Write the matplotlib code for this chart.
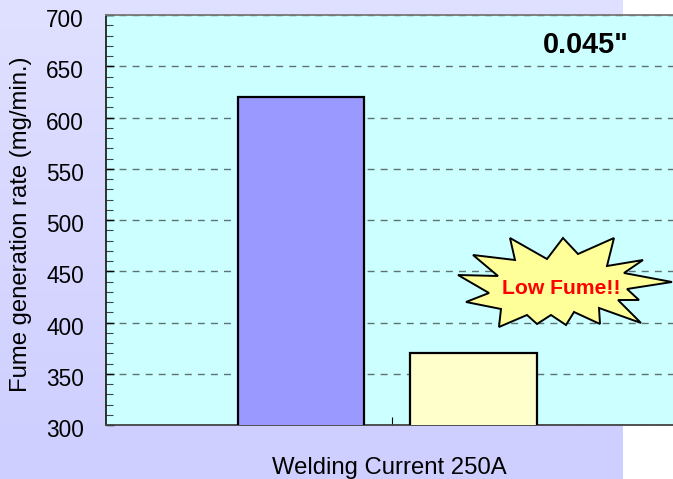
import matplotlib

matplotlib.use("Agg")
import matplotlib.pyplot as plt
import numpy as np
from matplotlib.colors import LinearSegmentedColormap
from matplotlib.patches import Polygon
from matplotlib.ticker import MultipleLocator
from matplotlib.transforms import ScaledTranslation

barValues = [620, 370]
barColors = ["#9999ff", "#ffffcc"]
yTicks = [300, 350, 400, 450, 500, 550, 600, 650, 700]
xLabel = "Welding Current 250A"
yLabel = "Fume generation rate (mg/min.)"
wireLabel = '0.045"'
burstLabel = "Low Fume!!"
# Outline of the callout shape, in image pixels.
burstX = [510, 547, 563, 578, 614, 607, 643, 624, 672, 627, 639, 618, 641, 599, 600, 574, 566, 551, 537, 527, 499, 501, 466, 489, 458, 498, 473, 515]
burstY = [238, 259, 238, 254, 238, 266, 260, 273, 282, 289, 300, 300, 323, 308, 324, 312, 325, 315, 324, 315, 327, 309, 302, 293, 275, 276, 255, 260]

figWidth = 673
figHeight = 479


# Converts image pixels to figure fractions.
def toFig(xValues, yValues):
    return [(x / figWidth, 1.0 - y / figHeight) for x, y in zip(xValues, yValues)]


def main():
    plt.rcParams["font.family"] = ["Liberation Sans", "DejaVu Sans"]
    fig = plt.figure(figsize=(figWidth / 100, figHeight / 100), dpi=100)

    # Lavender gradient panel that stops short of the right edge.
    backAx = fig.add_axes([0, 0, 623 / figWidth, 1])
    gradient = np.linspace(0, 1, 256).reshape(-1, 1)
    gradientCmap = LinearSegmentedColormap.from_list("back", ["#e0e0ff", "#ceceff"])
    backAx.imshow(gradient, aspect="auto", cmap=gradientCmap)
    backAx.axis("off")

    left = 106 / figWidth
    bottom = 1.0 - 425 / figHeight
    ax = fig.add_axes([left, bottom, 572 / figWidth, 410 / figHeight])
    ax.set_facecolor("#ccffff")
    ax.bar(
        [0, 1],
        barValues,
        width=0.733,
        color=barColors,
        edgecolor="black",
        linewidth=1.6,
        zorder=3,
    )
    ax.set_xlim(-1.13, 2.186)
    ax.set_ylim(300, 700)
    ax.set_yticks(yTicks)
    ax.yaxis.set_minor_locator(MultipleLocator(10))
    ax.tick_params(axis="y", which="major", direction="in", length=6, width=1.0, labelsize=16.3, pad=16)
    ax.tick_params(axis="y", which="minor", direction="in", length=5, width=0.8, color="#444444")
    # Tick labels sit a little below their ticks in the original.
    labelShift = ScaledTranslation(0, -3 / 100, fig.dpi_scale_trans)
    for tickLabel in ax.get_yticklabels():
        tickLabel.set_transform(tickLabel.get_transform() + labelShift)
    ax.set_xticks([0.5275])
    ax.set_xticklabels([""])
    ax.tick_params(axis="x", direction="in", length=6, width=0.8)
    ax.grid(axis="y", which="major", color="#5f7272", linestyle=(0, (5, 4.4)), linewidth=1.0, zorder=1)
    ax.spines["right"].set_visible(False)
    ax.spines["top"].set_color("#777777")
    ax.spines["bottom"].set_color("#444444")
    ax.spines["left"].set_color("#222222")
    for spine in ax.spines.values():
        spine.set_linewidth(1.3)

    fig.text(389 / figWidth, 1.0 - 468 / figHeight, xLabel, fontsize=17.2, ha="center", va="center")
    fig.text(21.5 / figWidth, 1.0 - 224 / figHeight, yLabel, fontsize=17.2, rotation=90, ha="center", va="center")
    fig.text(586 / figWidth, 1.0 - 45 / figHeight, wireLabel, fontsize=20.8, fontweight="bold", ha="center", va="center")

    burst = Polygon(
        toFig(burstX, burstY),
        closed=True,
        facecolor="#ffff99",
        edgecolor="black",
        linewidth=1.4,
        transform=fig.transFigure,
        zorder=5,
    )
    fig.add_artist(burst)
    fig.text(
        561 / figWidth,
        1.0 - 288 / figHeight,
        burstLabel,
        color="#ff0000",
        fontsize=15.2,
        fontweight="bold",
        ha="center",
        va="center",
        zorder=6,
    )

    fig.savefig("out.png", dpi=100)
    plt.close(fig)


if __name__ == "__main__":
    main()
